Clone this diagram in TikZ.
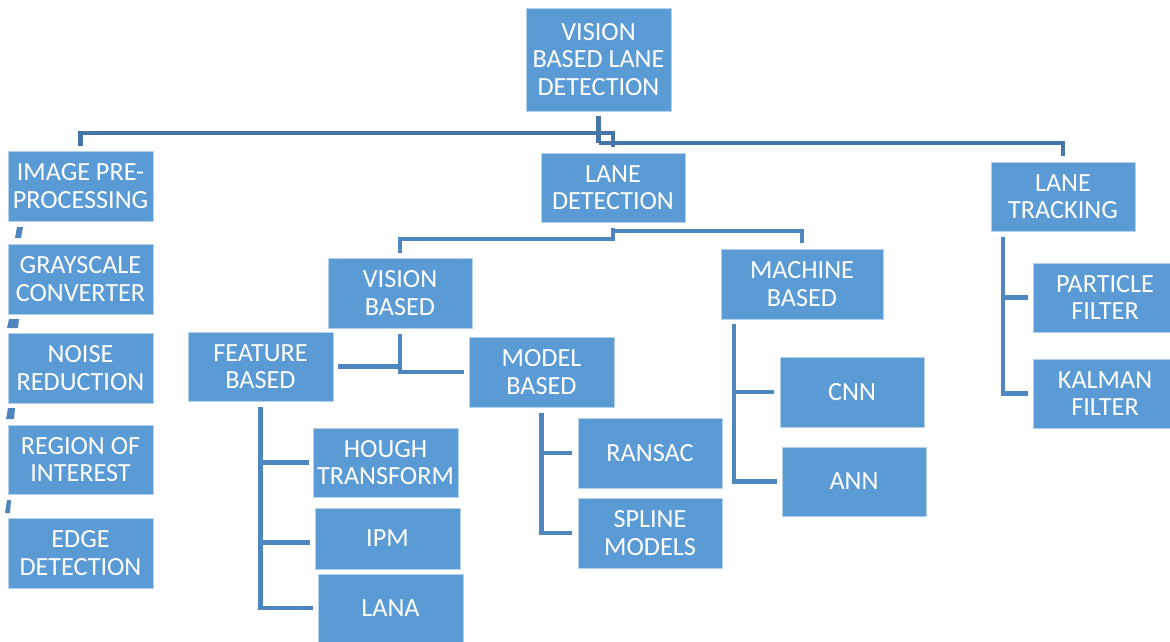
\documentclass[tikz,border=0pt]{standalone}
\usepackage{fontspec}
\setmainfont{Carlito}
\definecolor{boxblue}{HTML}{5B9BD5}
\definecolor{toplink}{HTML}{4676A8}
\definecolor{link}{HTML}{4E86C0}
\tikzset{
  box/.style={fill=boxblue, draw=white!55!boxblue, line width=0.8pt,
    anchor=north west, inner sep=1pt, outer sep=0pt, align=center,
    text=white, font=\fontsize{26.2}{27.5}\selectfont},
  topwire/.style={draw=toplink, line width=4.5pt},
  wire/.style={draw=link, line width=4.5pt},
  nub/.style={fill=link}
}
\begin{document}
\begin{tikzpicture}[x=1pt,y=-1pt]
\useasboundingbox (0,0) rectangle (1170,642);
\clip (0,0) rectangle (1170,642);

% ---- boxes ----
\node[box, minimum width=145, minimum height=103] (root) at (526,8) {VISION\\BASED LANE\\DETECTION};

\node[box, minimum width=145, minimum height=70] (imgpre) at (8,151) {IMAGE PRE-\\PROCESSING};
\node[box, minimum width=145, minimum height=70] (gray)   at (8,244) {GRAYSCALE\\CONVERTER};
\node[box, minimum width=145, minimum height=70] (noise)  at (8,333) {NOISE\\REDUCTION};
\node[box, minimum width=145, minimum height=69] (roi)    at (8,425) {REGION OF\\INTEREST};
\node[box, minimum width=145, minimum height=70] (edge)   at (8,518) {EDGE\\DETECTION};

\node[box, minimum width=144, minimum height=69] (lanedet)   at (541,153) {LANE\\DETECTION};
\node[box, minimum width=144, minimum height=69] (lanetrack) at (991,162) {LANE\\TRACKING};

\node[box, minimum width=144, minimum height=70] (vision)  at (328,258) {VISION\\BASED};
\node[box, minimum width=162, minimum height=70] (machine) at (721,249) {MACHINE\\BASED};
\node[box, minimum width=145, minimum height=69] (feature) at (188,332) {FEATURE\\BASED};
\node[box, minimum width=145, minimum height=70] (model)   at (469,337) {MODEL\\BASED};

\node[box, minimum width=145, minimum height=69] (hough) at (313,428) {HOUGH\\TRANSFORM};
\node[box, minimum width=145, minimum height=61] (ipm)   at (315,508) {IPM};
\node[box, minimum width=145, minimum height=68] (lana)  at (318,574) {LANA};

\node[box, minimum width=144, minimum height=70] (ransac) at (578,418) {RANSAC};
\node[box, minimum width=144, minimum height=70] (spline) at (578,498) {SPLINE\\MODELS};

\node[box, minimum width=144, minimum height=70] (cnn) at (780,357) {CNN};
\node[box, minimum width=144, minimum height=69] (ann) at (782,447) {ANN};

\node[box, minimum width=144, minimum height=69] (particle) at (1033,263) {PARTICLE\\FILTER};
\node[box, minimum width=144, minimum height=69] (kalman)   at (1033,359) {KALMAN\\FILTER};

% ---- top level links ----
\draw[topwire] ([yshift=-5pt]root.south) -- (root.south |- 0,143);
\draw[topwire] ([yshift=5pt]imgpre.north) -- (imgpre.north |- 0,133)
  -- (lanedet.north |- 0,133) -- ([yshift=6pt]lanedet.north);
\draw[topwire] (root.south |- 0,143) -- (lanetrack.north |- 0,143)
  -- ([yshift=6pt]lanetrack.north);

% ---- lane detection branch ----
\draw[wire] ([yshift=-6pt]lanedet.south) -- (lanedet.south |- 0,239);
\draw[wire] ([yshift=5pt]vision.north) -- (vision.north |- 0,239)
  -- (lanedet.south |- 0,239) -- (lanedet.south |- 0,231)
  -- (machine.north |- 0,231) -- ([yshift=6pt]machine.north);

% ---- vision based branch ----
\draw[wire] ([yshift=-6pt]vision.south) -- (vision.south |- model.west)
  -- ([xshift=-5pt]model.west);
\draw[wire] ([xshift=5pt]feature.east) -- (vision.south |- feature.east);

% ---- feature based branch ----
\draw[wire] ([yshift=-6pt]feature.south) -- (feature.south |- lana.west)
  -- ([xshift=-5pt]lana.west);
\draw[wire] (feature.south |- hough.west) -- ([xshift=-4pt]hough.west);
\draw[wire] ([yshift=-4pt]feature.south |- ipm.west) -- ([xshift=-5pt,yshift=-4pt]ipm.west);

% ---- model based branch ----
\draw[wire] ([yshift=-6pt]model.south) -- (model.south |- spline.west)
  -- ([xshift=-6pt]spline.west);
\draw[wire] (model.south |- ransac.west) -- ([xshift=-6pt]ransac.west);

% ---- machine based branch ----
\draw[wire] ([xshift=13pt,yshift=-5pt]machine.south west) coordinate (ms)
  -- (ms |- ann.west) -- ([xshift=-5pt]ann.west);
\draw[wire] (ms |- cnn.west) -- ([xshift=-6pt]cnn.west);

% ---- lane tracking branch ----
\draw[wire] ([xshift=12pt,yshift=-6pt]lanetrack.south west) coordinate (ts)
  -- (ts |- kalman.west) -- ([xshift=-5pt]kalman.west);
\draw[wire] (ts |- particle.west) -- ([xshift=-5pt]particle.west);

% ---- small marks down the pre-processing column ----
\fill[nub] (17,227) -- (23,227) -- (21,238) -- (15,238) -- cycle;
\fill[nub] (9,319) -- (19,319) -- (18,328) -- (7,328) -- cycle;
\fill[nub] (8,408) -- (15,408) -- (14,419) -- (6,419) -- cycle;
\fill[nub] (7,500) -- (11,500) -- (10,513) -- (5,513) -- cycle;
\end{tikzpicture}
\end{document}
